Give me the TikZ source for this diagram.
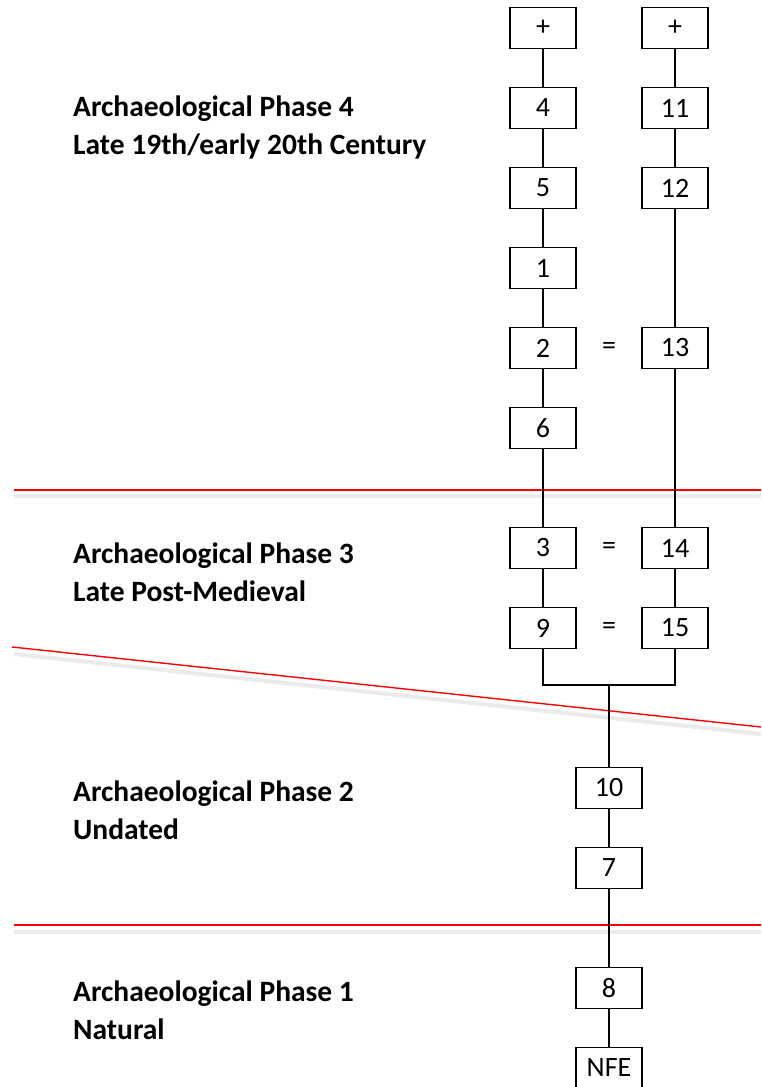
\documentclass[tikz,border=0pt]{standalone}
\usepackage{fontspec}
\setmainfont{Carlito}

\begin{document}
\begin{tikzpicture}[x=1pt,y=-1pt,
  ctx/.style={draw, line width=1.8pt, minimum width=66pt, minimum height=41pt,
    inner sep=0pt, font=\fontsize{28}{28}\selectfont},
  link/.style={line width=1.3pt},
  phase/.style={anchor=west, align=left, inner sep=0pt,
    font=\bfseries\fontsize{29.5}{38}\selectfont},
  cut/.style={red, line width=1.4pt},
  cutshadow/.style={black!8, line width=4pt}]

\useasboundingbox (0,0) rectangle (761,1087);

% Phase boundaries
\draw[cutshadow] (14,496) -- (761,496);
\draw[cutshadow] (14,654) -- (761,734);
\draw[cutshadow] (14,932) -- (761,932);
\draw[cut] (14,490) -- (761,490);
\draw[cut] (12,647) -- (761,727);
\draw[cut] (14,925) -- (761,925);

% Phase labels
\node[phase] (ph4) at (73,127) {Archaeological Phase 4\\Late 19th/early 20th Century};
\node[phase] (ph3) at (73,572) {Archaeological Phase 3\\Late Post-Medieval};
\node[phase] (ph2) at (73,810) {Archaeological Phase 2\\Undated};
\node[phase] (ph1) at (73,1010) {Archaeological Phase 1\\Natural};

% Left sequence
\node[ctx] (topl) at (543,28)  {+};
\node[ctx] (c4)   at (543,108) {4};
\node[ctx] (c5)   at (543,188) {5};
\node[ctx] (c1)   at (543,268) {1};
\node[ctx] (c2)   at (543,348) {2};
\node[ctx] (c6)   at (543,428) {6};
\node[ctx] (c3)   at (543,548) {3};
\node[ctx] (c9)   at (543,628) {9};

% Right sequence
\node[ctx] (topr) at (675,28)  {+};
\node[ctx] (c11)  at (675,108) {11};
\node[ctx] (c12)  at (675,188) {12};
\node[ctx] (c13)  at (675,348) {13};
\node[ctx] (c14)  at (675,548) {14};
\node[ctx] (c15)  at (675,628) {15};

% Equivalences
\node[font=\fontsize{28}{28}\selectfont] (eq1) at (609,348) {=};
\node[font=\fontsize{28}{28}\selectfont] (eq2) at (609,548) {=};
\node[font=\fontsize{28}{28}\selectfont] (eq3) at (609,628) {=};

% Lower sequence
\node[ctx] (c10)  at (609,788)  {10};
\node[ctx] (c7)   at (609,868)  {7};
\node[ctx] (c8)   at (609,988)  {8};
\node[ctx] (nfe)  at (609,1068) {NFE};

% Links
\draw[link] (topl) -- (c4) -- (c5) -- (c1) -- (c2) -- (c6) -- (c3) -- (c9);
\draw[link] (topr) -- (c11) -- (c12) -- (c13) -- (c14) -- (c15);
\coordinate (fork) at (609,685);
\draw[link] (c9.south) |- (fork);
\draw[link] (c15.south) |- (fork);
\draw[link] (fork) -- (c10) -- (c7) -- (c8) -- (nfe);

\end{tikzpicture}
\end{document}
